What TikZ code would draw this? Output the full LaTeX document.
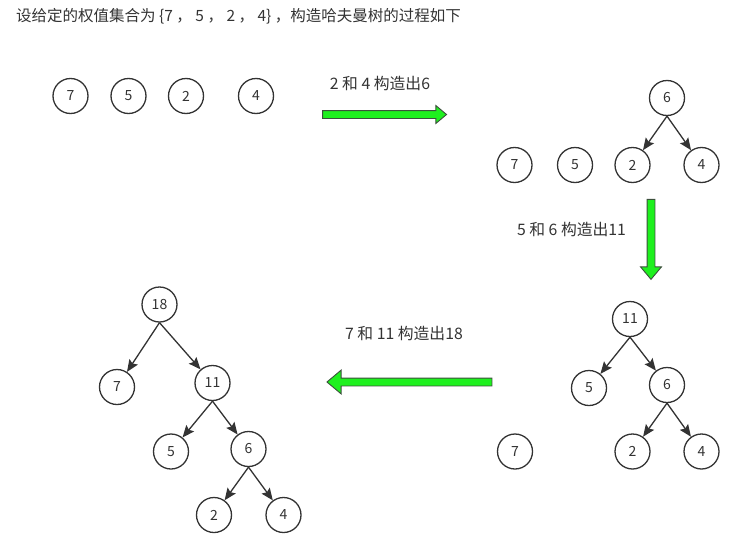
\documentclass[tikz,border=0pt]{standalone}
\usepackage{fontspec}
\setmainfont{Noto Sans CJK SC}
\usepackage{tikz}
\usetikzlibrary{arrows.meta,shapes.arrows,positioning}
\definecolor{mygray}{RGB}{51,51,51}
\definecolor{mygreen}{RGB}{30,240,30}
\definecolor{myborder}{RGB}{60,80,60}
\tikzstyle{vertex}=[draw=mygray,circle,line width=1.3pt,minimum size=35pt,inner sep=0pt,text=mygray,font=\fontsize{14}{16}\selectfont]
\tikzstyle{edge}=[draw=mygray,line width=1.3pt,-{Stealth[length=12pt,width=10pt,inset=2pt]}]
\tikzstyle{bigarrow}=[single arrow,draw=myborder,fill=mygreen,line width=0.9pt,inner xsep=0pt,inner ysep=3.5pt,single arrow head extend=5pt,single arrow tip angle=80]
\tikzstyle{steplabel}=[text=mygray,font=\fontsize{15.8}{17}\selectfont]

\begin{document}
\begin{tikzpicture}[x=1pt,y=-1pt]
\useasboundingbox (0,0) rectangle (744,541);

\node[anchor=west,text=mygray,font=\fontsize{15.5}{17}\selectfont,inner sep=0pt] (title) at (16,16)
  {设给定的权值集合为 \{7 ， 5 ， 2 ， 4\} ，构造哈夫曼树的过程如下};

% initial forest
\node[vertex] (a7) at (70.5,96) {7};
\node[vertex] (a5) at (128.5,96) {5};
\node[vertex] (a2) at (186,96) {2};
\node[vertex] (a4) at (256,96) {4};

% step 1
\node[bigarrow,minimum height=124pt] (arr1) at (382.2,114.5) {};
\node[steplabel] (lab1) at (380,84) {2 和 4 构造出6};

\node[vertex] (b6) at (667,98) {6};
\node[vertex] (b7) at (514.5,165) {7};
\node[vertex] (b5) at (575,165) {5};
\node[vertex] (b2) at (632.5,165) {2};
\node[vertex] (b4) at (701.5,165) {4};
\draw[edge] (b6.south) -- (b2);
\draw[edge] (b6.south) -- (b4);

% step 2
\node[bigarrow,minimum height=80pt,inner xsep=3.5pt,inner ysep=0pt,single arrow head extend=6.5pt,shape border rotate=270] (arr2) at (651,237) {};
\node[steplabel] (lab2) at (571.5,230) {5 和 6 构造出11};

\node[vertex] (c11) at (630,319) {11};
\node[vertex] (c5) at (589,388) {5};
\node[vertex] (c6) at (667,385) {6};
\node[vertex] (c7) at (515,451.5) {7};
\node[vertex] (c2) at (632.5,451.5) {2};
\node[vertex] (c4) at (701.5,451.5) {4};
\draw[edge] (c11.south) -- (c5);
\draw[edge] (c11.south) -- (c6);
\draw[edge] (c6.south) -- (c2);
\draw[edge] (c6.south) -- (c4);

% step 3
\node[bigarrow,minimum height=165pt,single arrow head extend=8pt,shape border rotate=180] (arr3) at (411.8,382) {};
\node[steplabel] (lab3) at (404,333) {7 和 11 构造出18};

\node[vertex] (d18) at (159.5,304.5) {18};
\node[vertex] (d7) at (117,387) {7};
\node[vertex] (d11) at (212.5,383) {11};
\node[vertex] (d5) at (171,451.5) {5};
\node[vertex] (d6) at (248.5,449) {6};
\node[vertex] (d2) at (214,515) {2};
\node[vertex] (d4) at (283.5,515) {4};
\draw[edge] (d18.south) -- (d7);
\draw[edge] (d18.south) -- (d11);
\draw[edge] (d11.south) -- (d5);
\draw[edge] (d11.south) -- (d6);
\draw[edge] (d6.south) -- (d2);
\draw[edge] (d6.south) -- (d4);

\end{tikzpicture}
\end{document}
